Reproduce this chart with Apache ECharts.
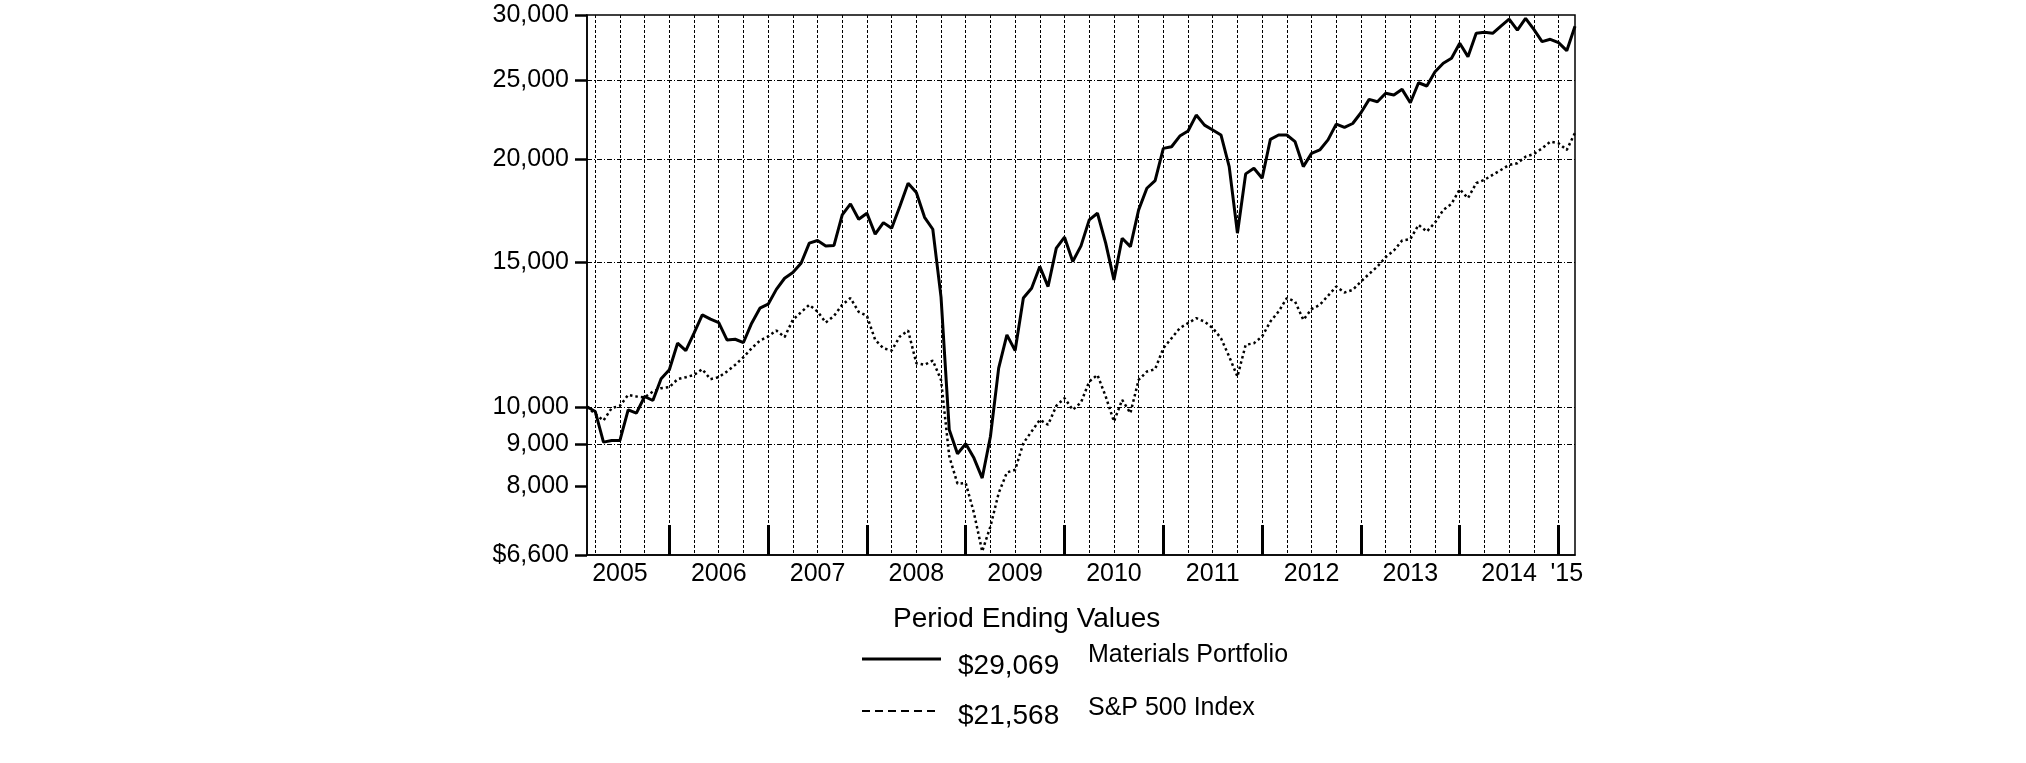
<!DOCTYPE html>
<html>
<head>
<meta charset="utf-8">
<script src="https://cdn.jsdelivr.net/npm/echarts@6/dist/echarts.min.js"></script>
<style>
html,body{margin:0;padding:0;background:#fff;}
#chart{width:2026px;height:763px;}
</style>
</head>
<body>
<div id="chart"></div>
<script>
// Month-end categories: Feb 2005 .. Feb 2015
const startYear = 2005, startMonth = 2, monthCount = 121;
const months = [];
for (let k = 0; k < monthCount; k++) {
  const m = startMonth - 1 + k;
  const y = startYear + Math.floor(m / 12);
  const mm = (m % 12) + 1;
  months.push(y + '-' + (mm < 10 ? '0' + mm : '' + mm));
}

const materials = [
  10000, 9870, 9057, 9100, 9100, 9916, 9824, 10294, 10179, 10817,
  11093, 11953, 11708, 12294, 12942, 12786, 12666, 12064, 12086, 11975,
  12643, 13186, 13333, 13900, 14340, 14571, 14958, 15822, 15939, 15702,
  15720, 17128, 17664, 16920, 17207, 16230, 16761, 16497, 17550, 18720,
  18237, 17013, 16451, 13600, 9376, 8767, 9016, 8660, 8189, 9202,
  11145, 12235, 11708, 13565, 13945, 14818, 14010, 15602, 16090, 15028,
  15702, 16890, 17207, 15822, 14275, 16045, 15672, 17370, 18457, 18860,
  20640, 20735, 21365, 21667, 22660, 22030, 21733, 21430, 19610, 16272,
  19215, 19520, 18982, 21170, 21430, 21430, 21030, 19610, 20354, 20547,
  21135, 22090, 21888, 22130, 22810, 23680, 23525, 24085, 23970, 24354,
  23460, 24810, 24585, 25590, 26200, 26570, 27710, 26695, 28500, 28575,
  28500, 29087, 29660, 28760, 29725, 28820, 27840, 28025, 27760, 27145,
  29069
];

const sp500 = [
  10000, 9800, 9622, 9963, 10028, 10342, 10294, 10270, 10437, 10536,
  10566, 10806, 10866, 10936, 11112, 10806, 10866, 11040, 11248, 11490,
  11785, 12040, 12180, 12387, 12158, 12762, 13038, 13309, 13062, 12666,
  12904, 13309, 13565, 13050, 12904, 12064, 11785, 11708, 12180, 12387,
  11300, 11248, 11387, 10783, 8700, 8060, 8075, 7425, 6666, 7150,
  7850, 8318, 8381, 9032, 9333, 9643, 9508, 10028, 10245, 9916,
  10123, 10735, 10936, 10294, 9596, 10197, 9824, 10783, 11040, 11112,
  11785, 12122, 12470, 12643, 12822, 12700, 12470, 12122, 11510, 10885,
  11896, 11953, 12180, 12700, 13062, 13565, 13437, 12762, 13150, 13309,
  13652, 14010, 13777, 13881, 14208, 14518, 14818, 15215, 15498, 15939,
  16002, 16654, 16346, 16761, 17370, 17664, 18406, 17950, 18720, 18897,
  19162, 19428, 19703, 19799, 20166, 20320, 20640, 21030, 20937, 20547,
  21568
];

const seriesNames = ['Materials Portfolio', 'S&P 500 Index'];
const yTicks = [6600, 8000, 9000, 10000, 15000, 20000, 25000, 30000];
const yGridLines = [9000, 10000, 15000, 20000, 25000];
const yearLabels = ['2005', '2006', '2007', '2008', '2009', '2010', '2011', '2012', '2013', '2014', "'15"];
const yearLabelMonths = ['2005-06', '2006-06', '2007-06', '2008-06', '2009-06', '2010-06', '2011-06', '2012-06', '2013-06', '2014-06', '2015-01'];
const legendTitle = 'Period Ending Values';

const FONT = '"Liberation Sans", Arial, sans-serif';
const fmt = v => Math.round(v).toLocaleString('en-US');

const chart = echarts.init(document.getElementById('chart'), null, {renderer: 'canvas'});

const lastM = materials[materials.length - 1];
const lastS = sp500[sp500.length - 1];

chart.setOption({
  animation: false,
  backgroundColor: '#fff',
  grid: {
    left: 587, right: 451, top: 15, bottom: 208,
    show: true, borderColor: '#000', borderWidth: 1.5, backgroundColor: 'transparent'
  },
  xAxis: {
    type: 'category',
    data: months,
    boundaryGap: false,
    axisLine: {show: true, lineStyle: {color: '#000', width: 1.5}},
    axisTick: {
      show: true, inside: true, length: 30,
      interval: (i, v) => months[i].slice(5) === '12',
      lineStyle: {color: '#000', width: 3}
    },
    axisLabel: {
      show: true,
      interval: (i, v) => yearLabelMonths.indexOf(months[i]) >= 0,
      formatter: (v) => yearLabels[yearLabelMonths.indexOf(v)],
      color: '#000', fontSize: 25, fontFamily: FONT, margin: 7
    },
    splitLine: {
      show: true,
      interval: (i, v) => ['03', '06', '09', '12'].indexOf(months[i].slice(5)) >= 0,
      lineStyle: {color: '#000', width: 1, type: [3, 2]}
    }
  },
  yAxis: {
    type: 'log',
    logBase: 10,
    min: yTicks[0],
    max: yTicks[yTicks.length - 1],
    axisLine: {show: true, lineStyle: {color: '#000', width: 1.5}},
    axisTick: {show: true, inside: false, length: 12, customValues: yTicks, lineStyle: {color: '#000', width: 2.5}},
    axisLabel: {
      show: true, customValues: yTicks,
      formatter: (v) => (v === yTicks[0] ? '$' : '') + fmt(v),
      color: '#000', fontSize: 25, fontFamily: FONT, margin: 18
    },
    splitLine: {show: false}
  },
  series: [
    {
      name: seriesNames[0],
      type: 'line',
      data: materials,
      showSymbol: false,
      symbol: 'none',
      lineStyle: {color: '#000', width: 3, type: 'solid'},
      z: 4
    },
    {
      name: seriesNames[1],
      type: 'line',
      data: sp500,
      showSymbol: false,
      symbol: 'none',
      lineStyle: {color: '#000', width: 2.5, type: [2.5, 3]},
      z: 3,
      markLine: {
        silent: true,
        symbol: ['none', 'none'],
        label: {show: false},
        lineStyle: {color: '#000', width: 1, type: [5, 2, 1, 2]},
        data: yGridLines.map(v => ({yAxis: v}))
      }
    }
  ],
  graphic: [
    {type: 'text', x: 893, y: 619, style: {text: legendTitle, font: '28px ' + FONT, fill: '#000', verticalAlign: 'middle'}},
    {type: 'line', shape: {x1: 862, y1: 659, x2: 941, y2: 659}, style: {stroke: '#000', lineWidth: 3}},
    {type: 'text', x: 958, y: 666, style: {text: '$' + fmt(lastM), font: '28px ' + FONT, fill: '#000', verticalAlign: 'middle'}},
    {type: 'text', x: 1088, y: 655, style: {text: seriesNames[0], font: '25px ' + FONT, fill: '#000', verticalAlign: 'middle'}},
    {type: 'line', shape: {x1: 862, y1: 711, x2: 938, y2: 711}, style: {stroke: '#000', lineWidth: 2, lineDash: [8, 5]}},
    {type: 'text', x: 958, y: 716, style: {text: '$' + fmt(lastS), font: '28px ' + FONT, fill: '#000', verticalAlign: 'middle'}},
    {type: 'text', x: 1088, y: 708, style: {text: seriesNames[1], font: '25px ' + FONT, fill: '#000', verticalAlign: 'middle'}}
  ]
});
</script>
</body>
</html>
